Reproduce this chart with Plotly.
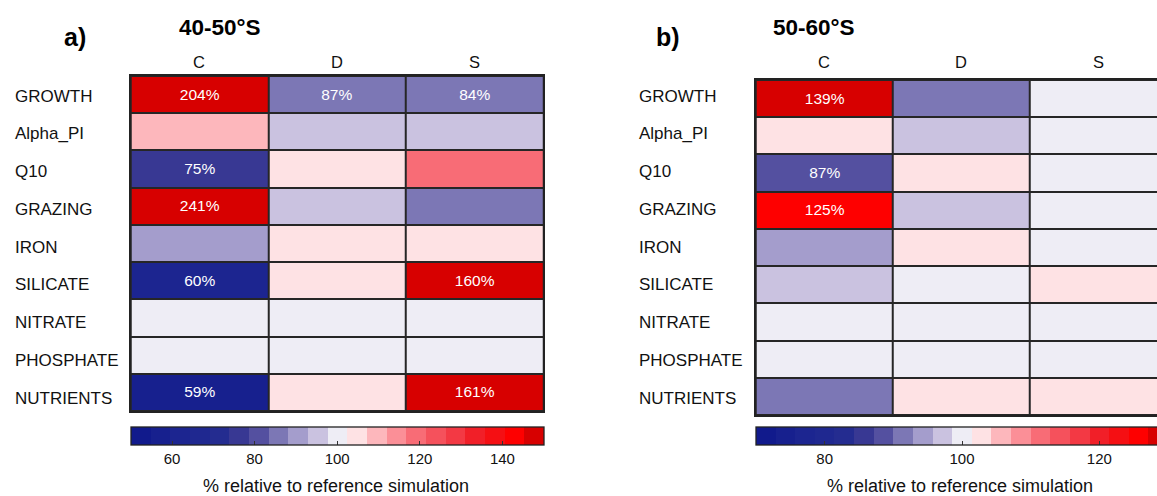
import plotly.graph_objects as go

W, H = 1157, 496

parameters = ["GROWTH", "Alpha_PI", "Q10", "GRAZING", "IRON",
              "SILICATE", "NITRATE", "PHOSPHATE", "NUTRIENTS"]
groups = ["C", "D", "S"]

# % of the reference simulation, 40-50°S, one list per group
c_4050 = [204, 110, 75, 241, 91, 60, 100, 100, 59]
d_4050 = [87, 95, 104.5, 95, 104.5, 104.5, 100, 100, 104.5]
s_4050 = [84, 95, 119, 86, 104.5, 160, 100, 100, 161]
labelled_4050 = [(0, 0), (0, 1), (0, 2), (2, 0), (3, 0), (5, 0), (5, 2), (8, 0), (8, 2)]

# % of the reference simulation, 50-60°S
c_5060 = [139, 103, 87.4, 125, 94, 97, 100, 100, 91.5]
d_5060 = [91.5, 97, 103, 97, 103, 100, 100, 100, 103]
s_5060 = [100, 100, 100, 100, 100, 103, 100, 100, 103]
labelled_5060 = [(0, 0), (2, 0), (3, 0)]

# colour-bar ranges and ticks
range_4050 = (50, 150)
range_5060 = (70, 130)
ticks_4050 = [60, 80, 100, 120, 140]
ticks_5060 = [80, 100, 120]

# 21-step diverging palette, blue -> white -> red
palette = ["#111a8c", "#17208e", "#1c2590", "#1f2890", "#242c90", "#383893",
           "#5450a0", "#7c77b5", "#a49dcc", "#cac2e0", "#eeedf5", "#fee2e4",
           "#fdb7bc", "#fb8f97", "#f86c76", "#f5515c", "#f33944", "#f11f28",
           "#f50f13", "#fe0000", "#d70000"]

FONT = "Liberation Sans, Arial, Helvetica, sans-serif"


def stepped(colors):
    n = len(colors)
    scale = []
    for k, c in enumerate(colors):
        scale.append([k / n, c])
        scale.append([(k + 1) / n, c])
    return scale


def table(*cols):
    return [[col[i] for col in cols] for i in range(len(cols[0]))]


def cell_text(z, labelled):
    txt = [["" for _ in row] for row in z]
    for r, c in labelled:
        txt[r][c] = f"{z[r][c]:.0f}%"
    return txt


def px_x(x):
    return x / W


def px_y(y):
    return 1 - y / H


z_a = table(c_4050, d_4050, s_4050)
z_b = table(c_5060, d_5060, s_5060)
scale = stepped(palette)

fig = go.Figure()

# panel geometry (pixels)
a_left, a_right, a_top, a_bot = 130.7, 543.3, 76.0, 411.0
b_left, b_top, b_bot = 755.7, 80.0, 415.0
col_w_b = (a_right - a_left) / 3 * 0.997

cb_common = dict(
    orientation="h", lenmode="pixels", thickness=18, xanchor="left",
    yanchor="top", xpad=0, ypad=0, outlinewidth=1.3, outlinecolor="#222",
    ticks="inside", ticklen=4, tickwidth=1, tickcolor="#333",
    tickfont=dict(family=FONT, size=15, color="#111"),
)

fig.add_trace(go.Heatmap(
    z=z_a, x=groups, y=parameters, xaxis="x", yaxis="y",
    zmin=range_4050[0], zmax=range_4050[1], colorscale=scale,
    xgap=2, ygap=2, text=cell_text(z_a, labelled_4050), texttemplate="%{text}",
    textfont=dict(family=FONT, size=15.5, color="#ffffff"), hoverinfo="skip",
    colorbar=dict(x=px_x(130.7), y=px_y(427.3), len=412.6,
                  tickvals=ticks_4050, **cb_common),
))

fig.add_trace(go.Heatmap(
    z=z_b, x=groups, y=parameters, xaxis="x2", yaxis="y2",
    zmin=range_5060[0], zmax=range_5060[1], colorscale=scale,
    xgap=2, ygap=2, text=cell_text(z_b, labelled_5060), texttemplate="%{text}",
    textfont=dict(family=FONT, size=15.5, color="#ffffff"), hoverinfo="skip",
    colorbar=dict(x=px_x(756.0), y=px_y(427.0), len=412.0,
                  tickvals=ticks_5060, **cb_common),
))

axis_common = dict(showticklabels=False, ticks="", showgrid=False, zeroline=False,
                   showline=True, mirror=True, linecolor="#222", linewidth=1.5)

b_xmax = -0.5 + (W - b_left) / col_w_b

fig.update_layout(
    width=W, height=H,
    margin=dict(l=0, r=0, t=0, b=0, autoexpand=False),
    paper_bgcolor="white", plot_bgcolor="#262626",
    font=dict(family=FONT, color="#111"),
    xaxis=dict(domain=[px_x(a_left), px_x(a_right)], range=[-0.5, 2.5], **axis_common),
    yaxis=dict(domain=[px_y(a_bot), px_y(a_top)], range=[8.5, -0.5], **axis_common),
    xaxis2=dict(domain=[px_x(b_left), 1.0], range=[-0.5, b_xmax], anchor="y2", **axis_common),
    yaxis2=dict(domain=[px_y(b_bot), px_y(b_top)], range=[8.5, -0.5], anchor="x2", **axis_common),
    showlegend=False,
)

annotations = []

# row labels (shared vertical positions in both panels)
for i, name in enumerate(parameters):
    y = px_y(96 + 37.75 * i)
    for x0 in (13, 637):
        annotations.append(dict(text=name, xref="paper", yref="paper", x=px_x(x0), y=y,
                                xanchor="left", yanchor="middle", showarrow=False,
                                font=dict(size=17, family=FONT, color="#111")))

# column headers
for j, g in enumerate(groups):
    for xr in ("x", "x2"):
        annotations.append(dict(text=g, xref=xr, yref="paper", x=j, y=px_y(62),
                                yanchor="middle", showarrow=False,
                                font=dict(size=16.5, family=FONT, color="#111")))

# panel titles and letters
for txt, x, y, size in [("<b>a)</b>", 75, 37, 25), ("<b>b)</b>", 668, 37, 25),
                        ("<b>40-50°S</b>", 220, 28, 22.5), ("<b>50-60°S</b>", 814, 28, 22.5)]:
    annotations.append(dict(text=txt, xref="paper", yref="paper", x=px_x(x), y=px_y(y),
                            xanchor="center", yanchor="middle", showarrow=False,
                            font=dict(size=size, family=FONT, color="#000")))

# colour-bar titles
for x in (336, 960):
    annotations.append(dict(text="% relative to reference simulation", xref="paper",
                            yref="paper", x=px_x(x), y=px_y(485.5), xanchor="center",
                            yanchor="middle", showarrow=False, borderpad=0,
                            font=dict(size=18, family=FONT, color="#111")))

fig.update_layout(annotations=annotations)

fig.write_html("out.html")
